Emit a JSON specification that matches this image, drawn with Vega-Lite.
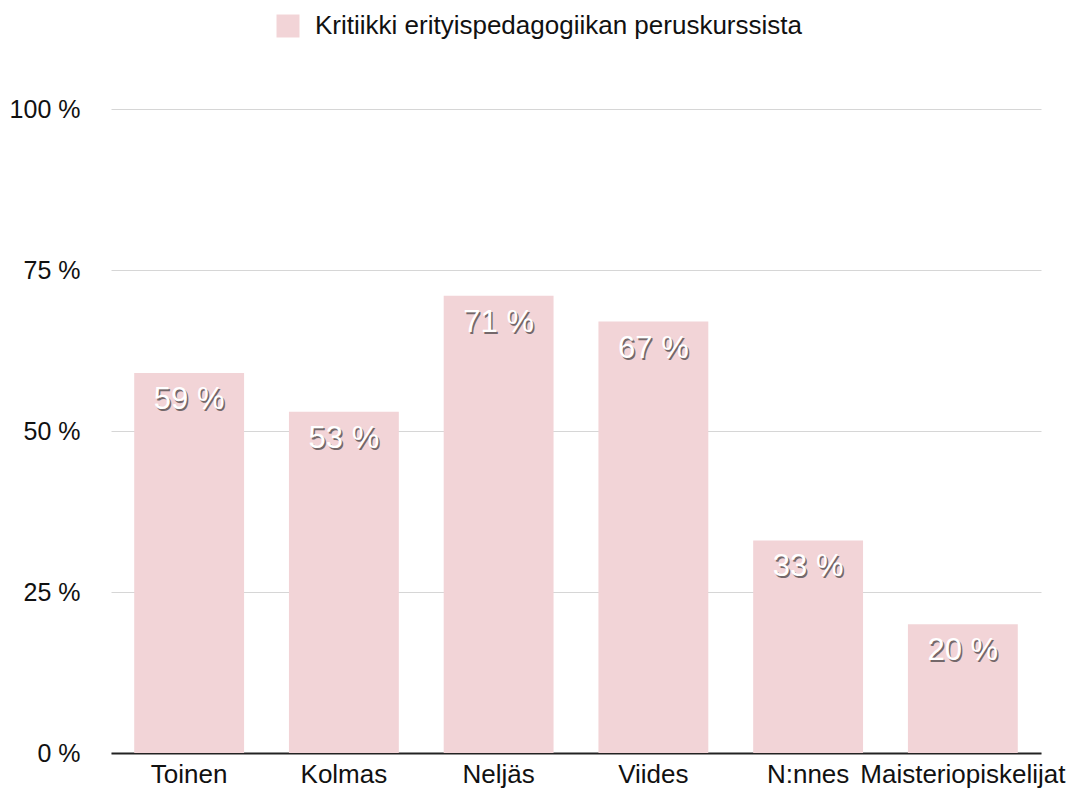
{
  "$schema": "https://vega.github.io/schema/vega-lite/v6.json",
  "width": 930,
  "height": 644,
  "autosize": {"type": "none"},
  "padding": {"left": 111, "top": 109, "right": 32, "bottom": 41},
  "background": "white",
  "config": {
    "view": {"stroke": null},
    "font": "Liberation Sans"
  },
  "data": {
    "values": [
      {"group": "Toinen", "value": 59, "series": "Kritiikki erityispedagogiikan peruskurssista"},
      {"group": "Kolmas", "value": 53, "series": "Kritiikki erityispedagogiikan peruskurssista"},
      {"group": "Neljäs", "value": 71, "series": "Kritiikki erityispedagogiikan peruskurssista"},
      {"group": "Viides", "value": 67, "series": "Kritiikki erityispedagogiikan peruskurssista"},
      {"group": "N:nnes", "value": 33, "series": "Kritiikki erityispedagogiikan peruskurssista"},
      {"group": "Maisteriopiskelijat", "value": 20, "series": "Kritiikki erityispedagogiikan peruskurssista"}
    ]
  },
  "transform": [{"calculate": "datum.value + ' %'", "as": "lbl"}],
  "encoding": {
    "x": {
      "field": "group", "type": "nominal", "sort": null,
      "scale": {"paddingInner": 0.29, "paddingOuter": 0.15},
      "axis": {
        "title": null, "labelAngle": 0, "ticks": false,
        "domainColor": "#222222", "domainWidth": 2,
        "labelFontSize": 26, "labelColor": "#111111", "labelPadding": 8,
        "labelFont": "Liberation Sans", "labelLimit": 300, "labelOverlap": false
      }
    },
    "y": {
      "field": "value", "type": "quantitative",
      "scale": {"domain": [0, 100], "nice": false},
      "axis": {
        "title": null, "values": [0, 25, 50, 75, 100],
        "labelExpr": "datum.value + ' %'",
        "domain": false, "ticks": false, "labelPadding": 31,
        "gridColor": "#d6d6d6", "gridWidth": 1,
        "labelFontSize": 25, "labelColor": "#111111",
        "labelFont": "Liberation Sans"
      }
    }
  },
  "layer": [
    {
      "mark": {"type": "bar"},
      "encoding": {
        "color": {
          "field": "series", "type": "nominal",
          "scale": {"range": ["#F2D4D7"]},
          "legend": {
            "title": null, "orient": "none", "legendX": 164, "legendY": -96,
            "symbolType": "square", "symbolSize": 529, "symbolStrokeWidth": 0,
            "labelFontSize": 26, "labelColor": "#111111", "labelOffset": 14,
            "labelFont": "Liberation Sans", "labelLimit": 800
          }
        }
      }
    },
    {
      "mark": {"type": "text", "baseline": "top", "align": "center", "dy": 14, "dx": 1.5, "fontSize": 31, "color": "#222222", "opacity": 0.6},
      "encoding": {"text": {"field": "lbl", "type": "nominal"}}
    },
    {
      "mark": {"type": "text", "baseline": "top", "align": "center", "dy": 12, "fontSize": 31, "color": "white"},
      "encoding": {"text": {"field": "lbl", "type": "nominal"}}
    }
  ]
}
